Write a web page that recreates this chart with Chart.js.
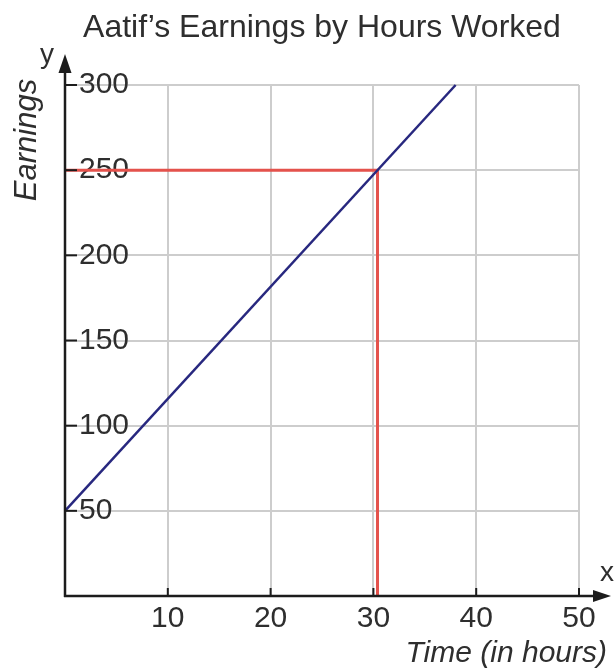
<!DOCTYPE html>
<html><head><meta charset="utf-8">
<script src="https://cdn.jsdelivr.net/npm/chart.js@4"></script>
<style>html,body{margin:0;padding:0;background:#fff}#wrap{width:615px;height:670px}</style>
</head><body><div id="wrap"><canvas id="c" width="615" height="670"></canvas></div>
<script>
const chartTitle = "Aatif\u2019s Earnings by Hours Worked";
const xAxisTitle = "Time (in hours)";
const yAxisTitle = "Earnings";
const xTickValues = [10, 20, 30, 40, 50];
const yTickValues = [50, 100, 150, 200, 250, 300];
const hoursWorked = [0, 38];
const earnings = [50, 300];
const markerHours = [0, 30.4, 30.4];
const markerEarnings = [250, 250, 0];

const FONT = "'Liberation Sans', Arial, sans-serif";
const TEXT = '#2e2e2e';

const axesPlugin = {
  id: 'axesArrows',
  afterDatasetsDraw(chart) {
    const { ctx, scales: { x, y } } = chart;
    const x0 = x.getPixelForValue(0), y0 = y.getPixelForValue(0);
    const xEnd = x.getPixelForValue(50), yTop = y.getPixelForValue(300);
    ctx.save();
    ctx.strokeStyle = '#1c1c1c'; ctx.fillStyle = '#1c1c1c'; ctx.lineWidth = 2.5;
    ctx.beginPath(); ctx.moveTo(x0, y0 + 1); ctx.lineTo(x0, yTop - 14); ctx.stroke();
    ctx.beginPath(); ctx.moveTo(x0 - 1, y0); ctx.lineTo(xEnd + 16, y0); ctx.stroke();
    ctx.beginPath(); ctx.moveTo(x0, yTop - 31); ctx.lineTo(x0 - 6.5, yTop - 12); ctx.lineTo(x0 + 6.5, yTop - 12); ctx.closePath(); ctx.fill();
    ctx.beginPath(); ctx.moveTo(xEnd + 32, y0); ctx.lineTo(xEnd + 14, y0 - 6); ctx.lineTo(xEnd + 14, y0 + 6); ctx.closePath(); ctx.fill();
    ctx.lineWidth = 2;
    yTickValues.forEach(v => { const p = y.getPixelForValue(v); ctx.beginPath(); ctx.moveTo(x0, p); ctx.lineTo(x0 + 12, p); ctx.stroke(); });
    xTickValues.forEach(v => { const p = x.getPixelForValue(v); ctx.beginPath(); ctx.moveTo(p, y0); ctx.lineTo(p, y0 - 8); ctx.stroke(); });
    ctx.fillStyle = TEXT;
    ctx.font = '28px ' + FONT;
    ctx.textAlign = 'center'; ctx.textBaseline = 'alphabetic';
    ctx.fillText('y', x0 - 18, yTop - 22);
    ctx.fillText('x', xEnd + 28, y0 - 15);
    ctx.font = 'italic 30px ' + FONT;
    ctx.textAlign = 'right';
    ctx.fillText(xAxisTitle, 607, 662);
    ctx.save();
    ctx.font = 'italic 31px ' + FONT;
    ctx.translate(36, 140); ctx.rotate(-Math.PI / 2);
    ctx.textAlign = 'center'; ctx.textBaseline = 'alphabetic';
    ctx.fillText(yAxisTitle, 0, 0);
    ctx.restore();
    ctx.restore();
  }
};

new Chart(document.getElementById('c'), {
  type: 'scatter',
  data: {
    datasets: [
      { data: hoursWorked.map((h, i) => ({ x: h, y: earnings[i] })), showLine: true, borderColor: '#28287f', borderWidth: 2.5, pointRadius: 0, order: 0, clip: false },
      { data: markerHours.map((h, i) => ({ x: h, y: markerEarnings[i] })), showLine: true, borderColor: '#e4524c', borderWidth: 3, pointRadius: 0, order: 1, clip: false }
    ]
  },
  options: {
    responsive: false, animation: false, events: [],
    layout: { padding: { left: 65, right: 36, top: 0, bottom: 24 } },
    plugins: {
      legend: { display: false }, tooltip: { enabled: false },
      title: { display: true, text: chartTitle, color: TEXT, font: { family: FONT, size: 32, weight: 'normal', lineHeight: 1.2 }, padding: { top: 9, bottom: 37.6 } }
    },
    scales: {
      x: {
        type: 'linear', min: 0, max: 50,
        afterBuildTicks: s => { s.ticks = [0].concat(xTickValues).map(v => ({ value: v })); },
        afterFit: s => { s.height = 50; },
        border: { display: false },
        grid: { color: '#cdcdcd', lineWidth: 2, drawTicks: false },
        ticks: { color: TEXT, font: { family: FONT, size: 30 }, padding: 5, maxRotation: 0, autoSkip: false, callback: v => v === 0 ? '' : String(v) }
      },
      y: {
        type: 'linear', min: 0, max: 300,
        afterBuildTicks: s => { s.ticks = [0].concat(yTickValues).map(v => ({ value: v })); },
        afterFit: s => { s.width = 0; },
        border: { display: false },
        grid: { color: '#cdcdcd', lineWidth: 2, drawTicks: false },
        ticks: { mirror: true, color: TEXT, font: { family: FONT, size: 30 }, padding: 14, autoSkip: false, callback: v => v === 0 ? '' : String(v) }
      }
    }
  },
  plugins: [axesPlugin]
});
</script></body></html>
